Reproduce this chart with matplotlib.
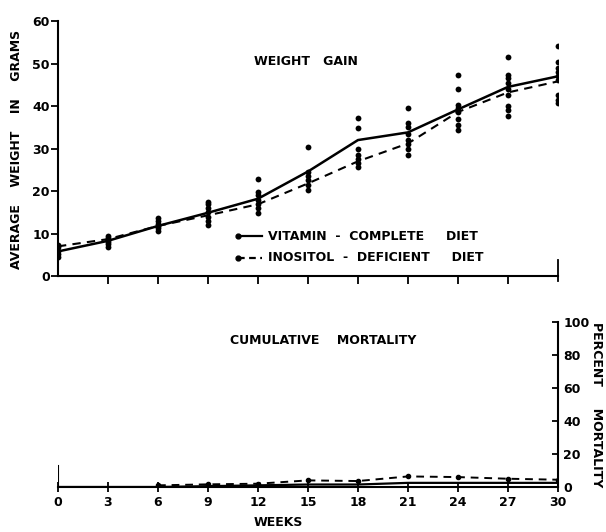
import numpy as np
import matplotlib
matplotlib.use("Agg")
import matplotlib.pyplot as plt

plt.rcParams['font.family'] = ['DejaVu Sans']
plt.rcParams['font.weight'] = 'bold'

# weeks on the diet
weeks = [0, 3, 6, 9, 12, 15, 18, 21, 24, 27, 30]

# average weight (g) of each group
wt_complete = [5.8, 8.3, 11.8, 14.9, 18.2, 24.6, 32.0, 33.8, 39.2, 44.5, 47.0]
wt_deficient = [7.0, 8.7, 11.8, 14.3, 16.9, 21.8, 27.0, 31.2, 38.6, 43.2, 45.8]

# individual animal weights (g) at each weighing
wt_points = {
    0: [4.5, 5.2, 6.0, 6.8, 7.3],
    3: [6.8, 7.5, 8.0, 8.5, 9.0, 9.5],
    6: [10.5, 11.2, 11.8, 12.3, 13.0, 13.6],
    9: [12.0, 13.0, 14.0, 15.0, 16.0, 17.0, 17.5],
    12: [14.8, 16.0, 17.0, 18.0, 19.0, 19.8, 22.8],
    15: [20.2, 21.5, 22.5, 23.5, 24.5, 30.3],
    18: [25.6, 26.5, 27.5, 28.5, 29.9, 34.8, 37.2],
    21: [28.5, 30.0, 31.0, 32.0, 33.5, 35.0, 36.0, 39.5],
    24: [34.4, 35.5, 37.0, 38.6, 39.5, 40.2, 44.0, 47.3],
    27: [37.6, 39.0, 40.0, 42.6, 44.0, 45.5, 46.5, 47.3, 51.5],
    30: [40.7, 41.5, 42.6, 46.1, 47.0, 48.0, 49.0, 50.4, 54.1],
}

# cumulative mortality (%)
mort_complete = [0, 0, 0, 0.5, 1.0, 1.5, 1.5, 2.5, 2.5, 2.5, 2.5]
mort_deficient = [0, 0, 1.0, 1.6, 2.0, 4.0, 3.6, 6.4, 6.0, 5.0, 4.4]

fig = plt.figure(figsize=(6.06, 5.32), dpi=100)
ax1 = fig.add_axes([0.0957, 0.481, 0.825, 0.4795])
ax2 = fig.add_axes([0.0957, 0.0846, 0.825, 0.3104])

lab_font = dict(fontsize=9, fontweight='bold')

# --- weight gain panel ---
for wk, vals in wt_points.items():
    ax1.plot([wk] * len(vals), vals, 'o', color='black', ms=4.2, mec='none')
ax1.plot(weeks, wt_complete, '-', color='black', lw=1.8)
ax1.plot(weeks, wt_deficient, '--', color='black', lw=1.5, dashes=(4, 3))

ax1.set_xlim(0, 30)
ax1.set_ylim(0, 60)
ax1.spines['top'].set_visible(False)
ax1.spines['right'].set_visible(False)
for s in ['left', 'bottom']:
    ax1.spines[s].set_linewidth(1.5)
ax1.set_yticks(range(0, 61, 10))
ax1.set_xticks(range(3, 28, 3))
ax1.set_xticklabels([])
ax1.tick_params(axis='y', direction='out', length=5, width=1.3, pad=1, labelsize=9)
ax1.tick_params(axis='x', direction='out', length=6, width=1.3)
ax1.axvline(30, ymin=-0.02, ymax=0.065, color='black', lw=1.3, clip_on=False)

ax1.text(0.495, 0.84, 'WEIGHT   GAIN', transform=ax1.transAxes, ha='center', va='center', **lab_font)

# legend key drawn by hand
for yk, ls, label in [(0.157, '-', 'VITAMIN  -  COMPLETE     DIET'),
                      (0.072, '--', 'INOSITOL  -  DEFICIENT     DIET')]:
    ax1.plot([0.36, 0.408], [yk, yk], ls, color='black', lw=1.6, dashes=(3, 2) if ls == '--' else (None, None),
             transform=ax1.transAxes)
    ax1.plot([0.36], [yk], 'o', color='black', ms=3.5, transform=ax1.transAxes)
    ax1.text(0.42, yk, label, transform=ax1.transAxes, ha='left', va='center', **lab_font)

fig.text(0.028, 0.72, 'AVERAGE    WEIGHT    IN    GRAMS', rotation=90, ha='center', va='center', **lab_font)

# --- mortality panel ---
ax2.plot(weeks, mort_complete, '-', color='black', lw=1.6)
ax2.plot(weeks[2:], mort_deficient[2:], '--', color='black', lw=1.4, dashes=(4, 3),
         marker='o', ms=3)
ax2.set_xlim(0, 30)
ax2.set_ylim(0, 100)
ax2.spines['top'].set_visible(False)
ax2.spines['left'].set_visible(False)
for s in ['right', 'bottom']:
    ax2.spines[s].set_linewidth(1.5)
ax2.axvline(0, ymin=0, ymax=0.13, color='black', lw=1.5)
ax2.yaxis.tick_right()
ax2.set_yticks(range(0, 101, 20))
ax2.tick_params(axis='y', direction='in', length=4, width=1.3, pad=4, labelsize=9)
ax2.set_xticks(weeks)
ax2.set_xticklabels([str(w) for w in weeks])
ax2.tick_params(axis='x', direction='inout', length=7, width=1.3, pad=3, labelsize=9)

ax2.text(0.53, 0.885, 'CUMULATIVE    MORTALITY', transform=ax2.transAxes, ha='center', va='center', **lab_font)
fig.text(0.459, 0.018, 'WEEKS', ha='center', va='center', **lab_font)
fig.text(0.985, 0.24, 'PERCENT     MORTALITY', rotation=-90, ha='center', va='center', **lab_font)

fig.savefig('out.png', dpi=100)
plt.close(fig)
